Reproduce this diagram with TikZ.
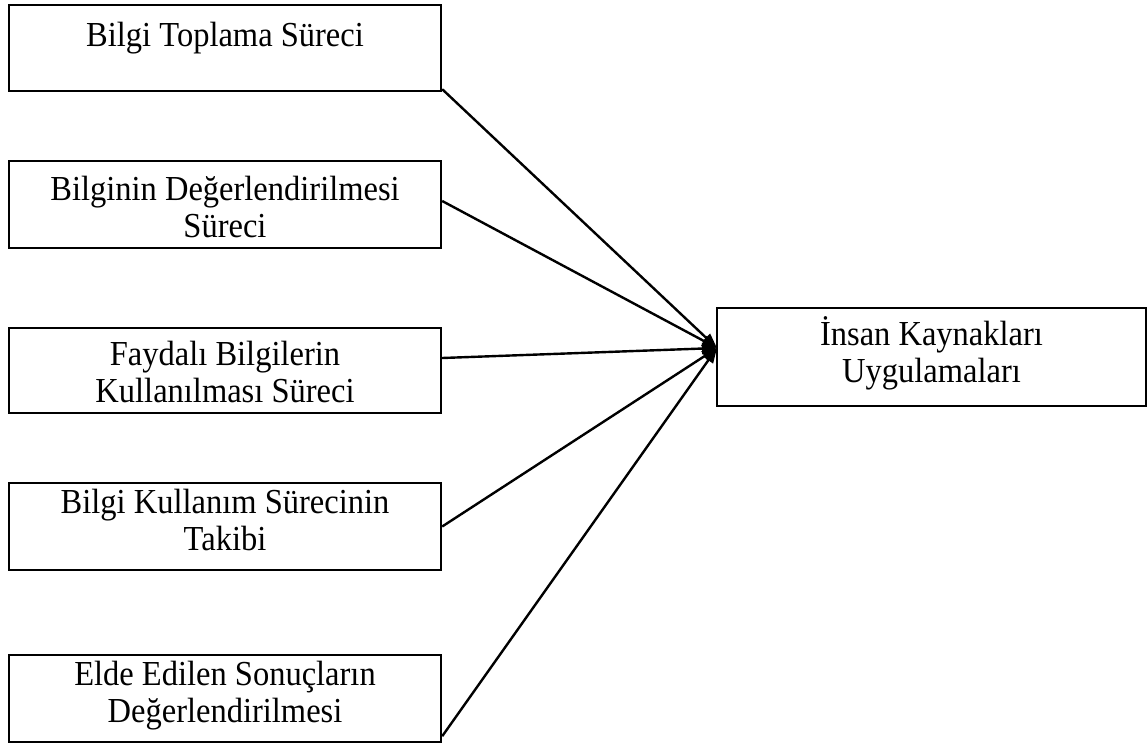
\documentclass[tikz,border=0pt]{standalone}
\usepackage{fontspec}
\setmainfont{Liberation Serif}
\usetikzlibrary{arrows.meta}
\begin{document}
\begin{tikzpicture}[x=1pt,y=-1pt,
  box/.style={draw, line width=2.4pt, rectangle, inner sep=0pt},
  leftbox/.style={box, minimum width=432pt},
  lbl/.style={anchor=base, inner sep=0pt, font=\fontsize{32.5}{34.3}\selectfont},
  link/.style={line width=2.4pt, -{Triangle[length=15pt,width=11pt]}}]
\useasboundingbox (0,0) rectangle (1147,744);

% process boxes on the left
\node[leftbox, minimum height=86pt] (b1) at (225,48) {};
\node[leftbox, minimum height=87pt] (b2) at (225,204.5) {};
\node[leftbox, minimum height=85pt] (b3) at (225,370.5) {};
\node[leftbox, minimum height=87pt] (b4) at (225,526.5) {};
\node[leftbox, minimum height=87pt] (b5) at (225,698.5) {};

% result box on the right
\node[box, minimum width=429pt, minimum height=98pt] (r) at (931.5,357) {};

% labels (type slightly stretched upright)
\newcommand{\tall}[1]{\scalebox{1}[1.08]{#1}}
\newcommand{\twolines}[2]{\tall{\begin{tabular}[t]{@{}c@{}}#1\\#2\end{tabular}}}
\node[lbl] (t1) at (225,46) {\tall{Bilgi Toplama Süreci}};
\node[lbl] (t2) at (225,200) {\twolines{Bilginin Değerlendirilmesi}{Süreci}};
\node[lbl] (t3) at (225,365) {\twolines{Faydalı Bilgilerin}{Kullanılması Süreci}};
\node[lbl] (t4) at (225,513) {\twolines{Bilgi Kullanım Sürecinin}{Takibi}};
\node[lbl] (t5) at (225,685) {\twolines{Elde Edilen Sonuçların}{Değerlendirilmesi}};
\node[lbl] (tr) at (931.5,345) {\twolines{İnsan Kaynakları}{Uygulamaları}};

% converging arrows
\coordinate (hub) at (717,348);
\draw[link] ([yshift=3pt]b1.south east) -- (hub);
\draw[link] ([yshift=3.5pt]b2.east) -- (hub);
\draw[link] ([yshift=12.5pt]b3.east) -- (hub);
\draw[link] (b4.east) -- (hub);
\draw[link] ([yshift=7pt]b5.south east) -- (hub);
\end{tikzpicture}
\end{document}
